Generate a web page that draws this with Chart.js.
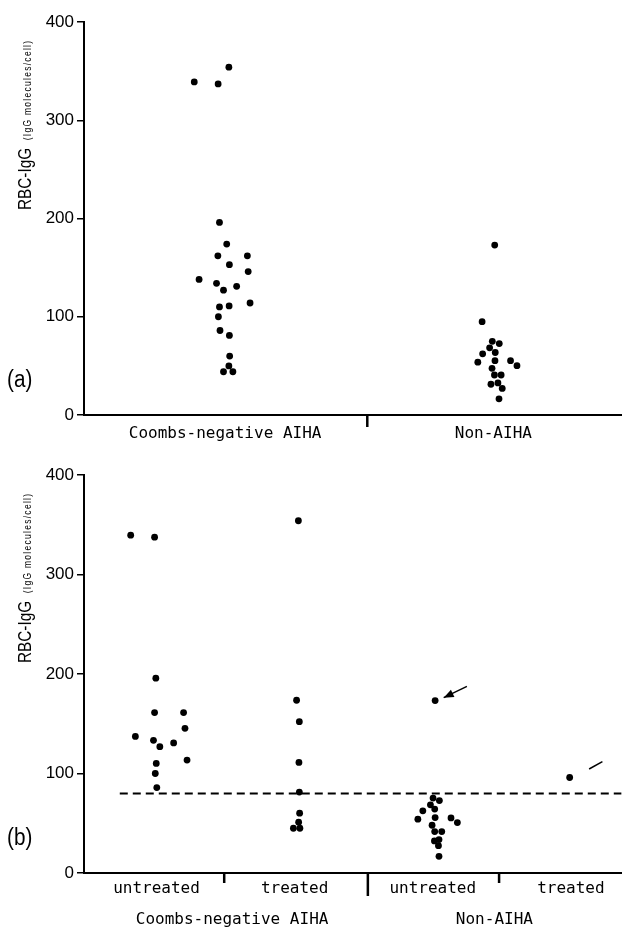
<!DOCTYPE html>
<html><head><meta charset="utf-8">
<script src="https://cdn.jsdelivr.net/npm/chart.js@4.4.1/dist/chart.umd.min.js"></script>
<style>
html,body{margin:0;padding:0;background:#fff;overflow:hidden;width:625px;height:930px}
.wrap{position:absolute;left:0;width:625px}
#wa{top:0;height:460px}
#wb{top:460px;height:470px}
canvas{display:block}
</style></head><body>
<div class="wrap" id="wa"><canvas id="ca" width="625" height="460"></canvas></div>
<div class="wrap" id="wb"><canvas id="cb" width="625" height="470"></canvas></div>
<script>
// ---------- data ----------
const groupLabels = ['Coombs-negative AIHA', 'Non-AIHA'];
const subLabels = ['untreated', 'treated', 'untreated', 'treated'];
const yTicks = [0, 100, 200, 300, 400];
const cutoffValue = 80;
const yTitleMain = 'RBC-IgG';
const yTitleSub = '(IgG molecules/cell)';

// panel (a): values (IgG molecules/cell) and beeswarm jitter (category units)
const coombsValues = [339, 337, 354, 196, 174, 162, 162, 153, 146, 138, 134, 127, 131, 110, 111, 114, 100, 86, 81, 60, 50, 44, 44];
const coombsJitter = [-0.115, -0.026, 0.014, -0.021, 0.006, -0.027, 0.083, 0.016, 0.086, -0.097, -0.032, -0.006, 0.043, -0.021, 0.015, 0.093, -0.025, -0.019, 0.016, 0.017, 0.014, -0.006, 0.029];
const nonAihaValues = [173, 95, 75, 72.7, 68.4, 63.6, 62.3, 53.8, 55.3, 55.3, 50.2, 47.5, 40.7, 40.7, 32.6, 31.3, 27, 16.5];
const nonAihaJitter = [0.005, -0.042, -0.004, 0.022, -0.014, 0.007, -0.040, -0.058, 0.006, 0.064, 0.088, -0.005, 0.004, 0.029, 0.017, -0.009, 0.033, 0.021];

// panel (b)
const coombsUntreatedValues = [339.5, 337.5, 195.8, 161.2, 161.2, 145.4, 137.3, 133.3, 127, 130.7, 110.1, 113.5, 100, 85.9];
const coombsUntreatedJitter = [-0.187, -0.014, -0.005, -0.014, 0.196, 0.206, -0.153, -0.022, 0.024, 0.124, -0.002, 0.221, -0.009, 0.002];
const coombsTreatedValues = [354, 173.6, 152.1, 111.1, 81.3, 60.1, 51.1, 45, 45];
const coombsTreatedJitter = [0.027, 0.014, 0.034, 0.031, 0.034, 0.036, 0.029, -0.009, 0.038];
const nonAihaUntreatedValues = [173.3, 75.3, 72.8, 68.5, 64.2, 62.5, 54.1, 55.7, 55.4, 50.7, 48, 41.6, 41.6, 32.2, 33.6, 27.5, 16.8];
const nonAihaUntreatedJitter = [0.017, 0.002, 0.048, -0.017, 0.014, -0.072, -0.108, 0.017, 0.132, 0.178, -0.005, 0.014, 0.065, 0.012, 0.045, 0.041, 0.045];
const nonAihaTreatedValues = [96];
const nonAihaTreatedJitter = [-0.009];

// annotation marks in panel (b), data units
const arrowB = {from: {x: 2.247, y: 187.6}, to: {x: 2.079, y: 176.2}};
const tickMarkB = {from: {x: 3.132, y: 104.5}, to: {x: 3.228, y: 111.9}};

// ---------- layout constants ----------
const SANS = '"Liberation Sans Narrow", "Liberation Sans", Arial, sans-serif';
const MONO = '"DejaVu Sans Mono", "Liberation Mono", monospace';
const axA = {min: -0.526, max: 1.478, centers: [0, 1], dividers: [{v: 0.53, len: 12}]};
const axB = {min: -0.525, max: 3.367, centers: [0, 1, 2, 3], groupPos: [0.547, 2.446],
             dividers: [{v: 0.49, len: 10}, {v: 1.53, len: 23}, {v: 2.48, len: 10}], dashStart: -0.266};

function pts(center, vals, jit) { return vals.map((v, i) => ({x: center + jit[i], y: v})); }
function dotSet(data) {
  return {type: 'scatter', data, pointRadius: 3.4, pointHoverRadius: 3.4, pointBackgroundColor: '#000',
          pointBorderColor: '#000', pointBorderWidth: 0, showLine: false};
}

function yAxis() {
  return {
    type: 'linear', min: 0, max: 400,
    afterBuildTicks: ax => { ax.ticks = yTicks.map(v => ({value: v})); },
    ticks: {font: {family: SANS, size: 17}, color: '#000', padding: 3},
    grid: {drawOnChartArea: false, drawTicks: true, tickLength: 7, color: '#000', lineWidth: 1.5},
    border: {display: true, color: '#000', width: 2},
    afterFit: s => { s.width = 84; }
  };
}

function xAxis(cfg, labels, height, pad) {
  return {
    type: 'linear', min: cfg.min, max: cfg.max,
    afterBuildTicks: ax => { ax.ticks = cfg.centers.map(v => ({value: v})); },
    ticks: {callback: (v, i) => labels[i], font: {family: MONO, size: 16}, color: '#000',
            padding: pad, autoSkip: false, maxRotation: 0, minRotation: 0},
    grid: {display: false, drawTicks: false},
    border: {display: true, color: '#000', width: 2},
    afterFit: s => { s.height = height; }
  };
}

function decorPlugin(letter, cfg, extra) {
  return {
    id: 'decor' + letter,
    afterDraw(chart) {
      const ctx = chart.ctx, ca = chart.chartArea, xs = chart.scales.x;
      ctx.save();
      ctx.fillStyle = '#000'; ctx.strokeStyle = '#000';
      // dividers below the category axis
      ctx.lineWidth = 2.5;
      cfg.dividers.forEach(d => {
        const px = xs.getPixelForValue(d.v);
        ctx.beginPath(); ctx.moveTo(px, ca.bottom); ctx.lineTo(px, ca.bottom + d.len); ctx.stroke();
      });
      // y axis title (rotated, condensed along the text direction)
      ctx.save();
      ctx.translate(31, ca.top + 188);
      ctx.rotate(-Math.PI / 2);
      ctx.scale(0.85, 1);
      ctx.textAlign = 'left'; ctx.textBaseline = 'alphabetic';
      ctx.font = '18px ' + SANS;
      ctx.fillText(yTitleMain, 0, 0);
      const w = ctx.measureText(yTitleMain).width;
      ctx.font = '10px ' + SANS;
      try { ctx.letterSpacing = '1.5px'; } catch (e) {}
      ctx.fillText(yTitleSub, w + 9, 0);
      try { ctx.letterSpacing = '0px'; } catch (e) {}
      ctx.restore();
      // panel letter (slightly condensed)
      ctx.save();
      ctx.translate(7, ca.bottom - 34);
      ctx.scale(0.9, 1);
      ctx.font = '23px ' + SANS;
      ctx.textAlign = 'left'; ctx.textBaseline = 'middle';
      ctx.fillText('(' + letter + ')', 0, 0);
      ctx.restore();
      if (extra) extra(chart, ctx, ca, xs, chart.scales.y);
      ctx.restore();
    }
  };
}

// ---------- panel (a) ----------
new Chart(document.getElementById('ca'), {
  type: 'scatter',
  data: {datasets: [
    dotSet(pts(axA.centers[0], coombsValues, coombsJitter)),
    dotSet(pts(axA.centers[1], nonAihaValues, nonAihaJitter))
  ]},
  options: {
    responsive: false, animation: false, devicePixelRatio: 1,
    layout: {padding: {top: 22, left: 0, right: 0, bottom: 0}},
    plugins: {legend: {display: false}, tooltip: {enabled: false}},
    scales: {x: xAxis(axA, groupLabels, 45, 9), y: yAxis()}
  },
  plugins: [decorPlugin('a', axA)]
});

// ---------- panel (b) ----------
function drawLine(ctx, xs, ys, seg, head) {
  const x1 = xs.getPixelForValue(seg.from.x), y1 = ys.getPixelForValue(seg.from.y);
  const x2 = xs.getPixelForValue(seg.to.x), y2 = ys.getPixelForValue(seg.to.y);
  ctx.lineWidth = 1.5;
  ctx.beginPath(); ctx.moveTo(x1, y1); ctx.lineTo(x2, y2); ctx.stroke();
  if (head) {
    const a = Math.atan2(y2 - y1, x2 - x1), L = 10, W = 4;
    ctx.beginPath();
    ctx.moveTo(x2, y2);
    ctx.lineTo(x2 - L * Math.cos(a) + W * Math.sin(a), y2 - L * Math.sin(a) - W * Math.cos(a));
    ctx.lineTo(x2 - L * Math.cos(a) - W * Math.sin(a), y2 - L * Math.sin(a) + W * Math.cos(a));
    ctx.closePath(); ctx.fill();
  }
}

new Chart(document.getElementById('cb'), {
  type: 'scatter',
  data: {datasets: [
    dotSet(pts(axB.centers[0], coombsUntreatedValues, coombsUntreatedJitter)),
    dotSet(pts(axB.centers[1], coombsTreatedValues, coombsTreatedJitter)),
    dotSet(pts(axB.centers[2], nonAihaUntreatedValues, nonAihaUntreatedJitter)),
    dotSet(pts(axB.centers[3], nonAihaTreatedValues, nonAihaTreatedJitter)),
    {type: 'line', data: [{x: axB.dashStart, y: cutoffValue}, {x: axB.max, y: cutoffValue}],
     borderColor: '#000', borderWidth: 2, borderDash: [8, 5], pointRadius: 0, fill: false}
  ]},
  options: {
    responsive: false, animation: false, devicePixelRatio: 1,
    layout: {padding: {top: 15, left: 0, right: 0, bottom: 0}},
    plugins: {legend: {display: false}, tooltip: {enabled: false}},
    scales: {x: xAxis(axB, subLabels, 57, 6), y: yAxis()}
  },
  plugins: [decorPlugin('b', axB, (chart, ctx, ca, xs, ys) => {
    ctx.font = '16px ' + MONO;
    ctx.textAlign = 'center'; ctx.textBaseline = 'middle';
    axB.groupPos.forEach((p, i) => ctx.fillText(groupLabels[i], xs.getPixelForValue(p), ca.bottom + 47));
    drawLine(ctx, xs, ys, arrowB, true);
    drawLine(ctx, xs, ys, tickMarkB, false);
  })]
});
</script>
</body></html>
